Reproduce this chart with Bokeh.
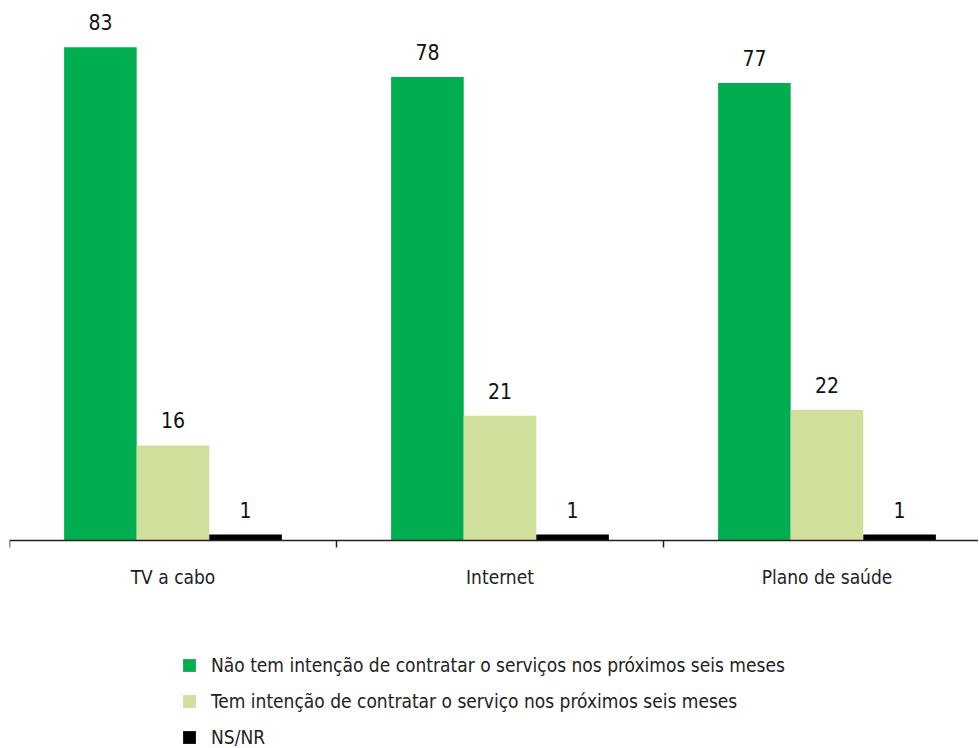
from bokeh.plotting import figure
from bokeh.models import (ColumnDataSource, Range1d, LinearAxis, FixedTicker,
                          Legend, LegendItem)
from bokeh.core.properties import value
from bokeh.transform import dodge
from bokeh.embed import file_html
from bokeh.resources import INLINE

categories = ["TV a cabo", "Internet", "Plano de saúde"]
nao_tem = [83, 78, 77]
tem = [16, 21, 22]
nsnr = [1, 1, 1]
series_names = [
    "Não tem intenção de contratar o serviços nos próximos seis meses",
    "Tem intenção de contratar o serviço nos próximos seis meses",
    "NS/NR",
]
colors = ["#00AE50", "#D1DF9C", "#000000"]

FONT = "DejaVu Sans Condensed"

centers = [i + 0.5 for i in range(len(categories))]
src = ColumnDataSource(dict(
    x=centers,
    nao=nao_tem, tem=tem, ns=nsnr,
    nao_t=[str(v) for v in nao_tem],
    tem_t=[str(v) for v in tem],
    ns_t=[str(v) for v in nsnr],
))

ytop = 89.7
ybot = -208 / 533 * ytop
p = figure(width=978, height=748, output_backend="svg", toolbar_location=None,
           x_range=Range1d(0, 969 / 327), y_range=Range1d(ybot, ytop),
           x_axis_location=None, y_axis_location=None,
           min_border_left=9, min_border_right=0, min_border_top=7,
           min_border_bottom=0)
p.grid.visible = False
p.outline_line_color = None
p.background_fill_color = "white"

w = 0.222
fields = ["nao", "tem", "ns"]
offsets = [-w, 0, w]
rends = []
for f, off, c in zip(fields, offsets, colors):
    r = p.vbar(x=dodge("x", off), top=f, width=w, bottom=0, source=src,
               fill_color=c, line_color=None)
    rends.append(r)
    p.text(x=dodge("x", off), y=f, text=f + "_t", source=src,
           text_align="center", text_baseline="alphabetic", y_offset=-25,
           text_font_size="21px", text_color="#111111", text_font=value(FONT))

ax = LinearAxis(ticker=FixedTicker(ticks=centers, minor_ticks=[0, 1, 2, 3]),
                fixed_location=0)
ax.major_label_overrides = {c: n for c, n in zip(centers, categories)}
ax.major_tick_line_color = None
ax.major_tick_out = 0
ax.major_tick_in = 0
ax.minor_tick_line_color = "#222222"
ax.minor_tick_out = 7
ax.minor_tick_in = 0
ax.minor_tick_line_width = 1.5
ax.axis_line_color = "#222222"
ax.axis_line_width = 1.5
ax.major_label_standoff = 18
ax.major_label_text_font = FONT
ax.major_label_text_font_size = "19px"
ax.major_label_text_color = "#222222"
p.add_layout(ax, "below")

legend = Legend(items=[LegendItem(label=n, renderers=[r]) for n, r in zip(series_names, rends)],
                location=(172, 0), orientation="vertical",
                glyph_width=16, glyph_height=16, label_height=22,
                label_standoff=14, spacing=14, padding=0, margin=0,
                label_text_font=FONT, label_text_font_size="19px",
                label_text_color="#222222", border_line_color=None,
                background_fill_alpha=0)
p.add_layout(legend, "center")

open("out.html", "w").write(file_html(p, INLINE))
